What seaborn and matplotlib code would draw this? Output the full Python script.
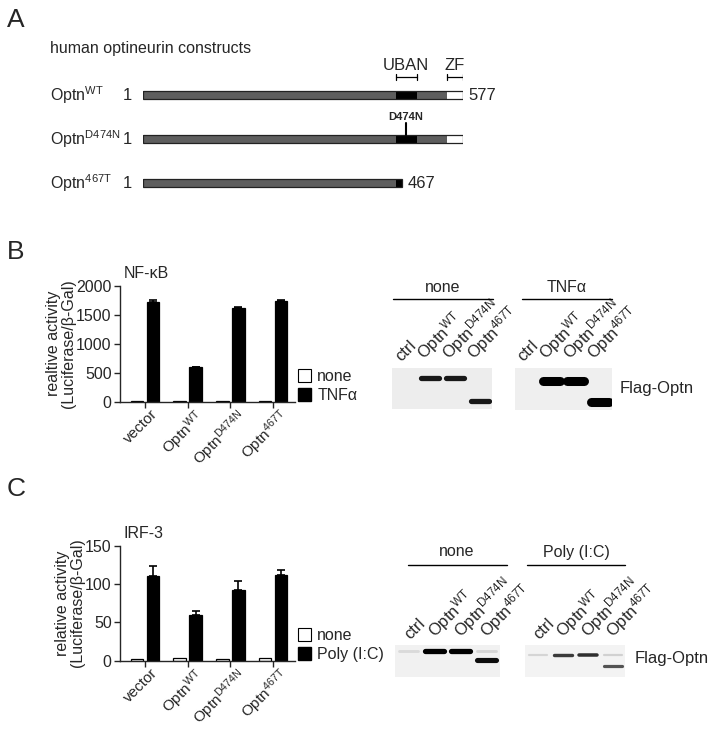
import numpy as np
import pandas as pd
import matplotlib
matplotlib.use("Agg")
import matplotlib.pyplot as plt
import seaborn as sns
from matplotlib.patches import Rectangle, Patch
from matplotlib.lines import Line2D
from matplotlib.transforms import blended_transform_factory, ScaledTranslation

W, H = 714, 730

# --- panel A: constructs (amino-acid coordinates) ---
construct_names = ["Optn$^{\\mathrm{WT}}$", "Optn$^{\\mathrm{D474N}}$", "Optn$^{\\mathrm{467T}}$"]
construct_len = [577, 577, 467]
uban = (456, 494)
zf = (548, 577)
mutation_pos = 474

# --- panels B / C: reporter assays ---
groups = ["vector", "Optn$^{\\mathrm{WT}}$", "Optn$^{\\mathrm{D474N}}$", "Optn$^{\\mathrm{467T}}$"]
nfkb_none = [5, 5, 5, 5]
nfkb_tnf = [1715, 590, 1620, 1735]
nfkb_tnf_err = [45, 8, 8, 25]
irf3_none = [2, 3.5, 2, 3.5]
irf3_poly = [110, 59, 92, 112]
irf3_poly_err = [13, 6, 12, 6]

# --- western blots: band intensity per lane (full-length, truncated) ---
lanes = ["ctrl", "Optn$^{\\mathrm{WT}}$", "Optn$^{\\mathrm{D474N}}$", "Optn$^{\\mathrm{467T}}$"]
blot_b_none = ([0, 0.9, 0.9, 0], [0, 0, 0, 0.9])
blot_b_tnf = ([0, 1.0, 1.0, 0], [0, 0, 0, 1.0])
blot_c_none = ([0.08, 1.0, 1.0, 0.1], [0, 0, 0, 0.95])
blot_c_poly = ([0.1, 0.75, 0.8, 0.12], [0, 0, 0, 0.65])

sns.set_theme(style="ticks")
plt.rcParams["font.family"] = ["Liberation Sans", "DejaVu Sans"]
plt.rcParams["mathtext.fontset"] = "custom"
plt.rcParams["mathtext.rm"] = "Liberation Sans"
plt.rcParams["mathtext.it"] = "Liberation Sans:italic"
plt.rcParams["mathtext.bf"] = "Liberation Sans:bold"
FS = 11.5


def rect(x0, y0, x1, y1):
    return [x0 / W, 1 - y1 / H, (x1 - x0) / W, (y1 - y0) / H]


fig = plt.figure(figsize=(W / 100, H / 100), dpi=100, facecolor="white")


def ftext(x, y, s, **kw):
    kw.setdefault("fontsize", FS)
    fig.text(x / W, 1 - y / H, s, **kw)


def fline(x0, x1, y):
    fig.add_artist(Line2D([x0 / W, x1 / W], [1 - y / H, 1 - y / H], color="black", lw=1.0))


# panel letters
ftext(7, 20, "A", fontsize=19, va="center")
ftext(7, 252, "B", fontsize=19, va="center")
ftext(7, 489, "C", fontsize=19, va="center")

# ---------------- panel A ----------------
ax_a = fig.add_axes(rect(143, 51, 463, 227))
ax_a.set_xlim(1, 577)
ax_a.set_ylim(3, -1)
ax_a.axis("off")
ftext(50, 48, "human optineurin constructs", va="center")
lab_tr = blended_transform_factory(fig.transFigure, ax_a.transData)
bh = 0.2
for r, (name, L) in enumerate(zip(construct_names, construct_len)):
    ax_a.add_patch(Rectangle((1, r - bh / 2), L - 1, bh, fc="#5e5e5e", ec="none"))
    if L > uban[1]:
        ax_a.add_patch(Rectangle((uban[0], r - bh / 2), uban[1] - uban[0], bh, fc="black", ec="none"))
        ax_a.add_patch(Rectangle((zf[0], r - bh / 2), zf[1] - zf[0], bh, fc="white", ec="none"))
    else:
        ax_a.add_patch(Rectangle((uban[0], r - bh / 2), L - uban[0], bh, fc="black", ec="none"))
    ax_a.add_patch(Rectangle((1, r - bh / 2), L - 1, bh, fill=False, ec="#222222", lw=0.9))
    ax_a.text(50 / W, r, name, transform=lab_tr, fontsize=FS, va="center", ha="left")
    ax_a.annotate("1", xy=(1, r), xytext=(-8, 0), textcoords="offset points",
                  ha="right", va="center", fontsize=FS + 0.5)
    if r != 1:
        ax_a.annotate(str(L), xy=(L, r), xytext=(4, 0), textcoords="offset points",
                      ha="left", va="center", fontsize=FS + 0.5)
# mutation marker
ax_a.plot([mutation_pos, mutation_pos], [1 - bh / 2, 1 - 0.36], color="black", lw=1.5)
ax_a.text(mutation_pos, 1 - 0.38, "D474N", ha="center", va="bottom", fontsize=8, fontweight="bold")
# domain brackets
for (d0, d1), lab in [(uban, "UBAN"), (zf, "ZF")]:
    ax_a.plot([d0, d1], [-0.41, -0.41], color="black", lw=0.9)
    for d in (d0, d1):
        ax_a.plot([d, d], [-0.47, -0.35], color="black", lw=0.9)
    ax_a.text((d0 + d1) / 2, -0.66, lab, ha="center", va="center", fontsize=FS + 0.5)


# ---------------- bar charts ----------------
def bar_panel(axrect, none_vals, stim_vals, stim_err, stim_label, ymax, yticks, title, ylabel, leg_y):
    ax = fig.add_axes(rect(*axrect))
    df = pd.DataFrame({
        "construct": groups * 2,
        "condition": ["none"] * 4 + [stim_label] * 4,
        "value": list(none_vals) + list(stim_vals),
    })
    sns.barplot(data=df, x="construct", y="value", hue="condition",
                palette={"none": "white", stim_label: "black"}, edgecolor="black",
                linewidth=0.9, width=0.75, gap=0.22, errorbar=None, legend=False, ax=ax)
    bars = ax.containers[1]
    xs = [p.get_x() + p.get_width() / 2 for p in bars]
    ax.errorbar(xs, stim_vals, yerr=[np.zeros(len(stim_err)), stim_err], fmt="none",
                ecolor="black", elinewidth=1.2, capsize=3, capthick=1.2, zorder=1)
    ax.set_xlim(-0.585, 3.515)
    ax.set_ylim(0, ymax)
    ax.set_yticks(yticks)
    ax.tick_params(axis="both", labelsize=FS, length=4, width=1, direction="out", pad=2)
    ax.set_xticks(range(4))
    ax.set_xticklabels(groups, rotation=45, ha="right", rotation_mode="anchor", fontsize=11)
    shift = ScaledTranslation(6 / 100, 3 / 100, fig.dpi_scale_trans)
    for lab in ax.get_xticklabels():
        lab.set_transform(lab.get_transform() + shift)
    ax.set_xlabel("")
    ax.set_ylabel(ylabel, fontsize=FS, labelpad=0, linespacing=1.0)
    for s in ("left", "bottom"):
        ax.spines[s].set_linewidth(1.0)
    sns.despine(ax=ax)
    ax.text(0.02, 1.04, title, transform=ax.transAxes, fontsize=FS, ha="left", va="bottom")
    handles = [Patch(fc="white", ec="black", lw=0.8), Patch(fc="black", ec="black")]
    fig.legend(handles, ["none", stim_label], loc="upper left",
               bbox_to_anchor=(298 / W, 1 - leg_y / H), frameon=False, fontsize=FS,
               handlelength=0.8, handleheight=0.8, handletextpad=0.4, labelspacing=0.25,
               borderpad=0, borderaxespad=0)
    return ax


bar_panel((120, 285.7, 295, 401.7), nfkb_none, nfkb_tnf, nfkb_tnf_err, "TNFα",
          2000, [0, 500, 1000, 1500, 2000], "NF-κB",
          "realtive activity\n(Luciferase/β-Gal)", 369)
bar_panel((120, 545.5, 295, 660.7), irf3_none, irf3_poly, irf3_poly_err, "Poly (I:C)",
          150, [0, 50, 100, 150], "IRF-3",
          "relative activity\n(Luciferase/β-Gal)", 628)


# ---------------- western blots ----------------
def blot(axrect, bands, ypos, lw, bg, lab_off):
    ax = fig.add_axes(rect(*axrect))
    ax.set_xlim(-0.5, 3.5)
    ax.set_ylim(1, 0)
    ax.set_facecolor(bg)
    for s in ax.spines.values():
        s.set_visible(False)
    ax.set_xticks([])
    ax.set_yticks([])
    g = 0.93
    for vals, y in zip(bands, ypos):
        for i, v in enumerate(vals):
            if v > 0:
                c = str(round(g * (1 - v), 3))
                ax.plot([i - 0.36, i + 0.36], [y, y], color=c, lw=lw * (0.5 + 0.5 * v),
                        solid_capstyle="round")
    lab_tr = blended_transform_factory(ax.transData, ax.transAxes)
    for i, lab in enumerate(lanes):
        ax.annotate(lab, xy=(i, 1), xycoords=lab_tr, xytext=lab_off, textcoords="offset points",
                    rotation=45, rotation_mode="anchor", ha="left", va="bottom", fontsize=12)
    return ax


blot((392, 368, 492, 409), blot_b_none, (0.24, 0.8), 4.0, "#ededed", (-1, 3))
blot((515, 368, 612, 410), blot_b_tnf, (0.3, 0.82), 6.5, "#efefef", (-1, 3))
blot((395, 645, 500, 677), blot_c_none, (0.19, 0.47), 3.8, "#f1f1f1", (3, 2))
blot((525, 645, 625, 677), blot_c_poly, (0.31, 0.66), 2.8, "#f3f3f3", (3, 2))

# blot headers
ftext(443, 288, "none", ha="center", va="center")
fline(393, 493, 299)
ftext(567, 288, "TNFα", ha="center", va="center")
fline(522, 612, 299)
ftext(457, 552, "none", ha="center", va="center")
fline(408, 507, 565)
ftext(576, 552, "Poly (I:C)", ha="center", va="center")
fline(527, 625, 565)
ftext(620, 388, "Flag-Optn", va="center", fontsize=12)
ftext(635, 658, "Flag-Optn", va="center", fontsize=12)

fig.savefig("out.png", dpi=100)
